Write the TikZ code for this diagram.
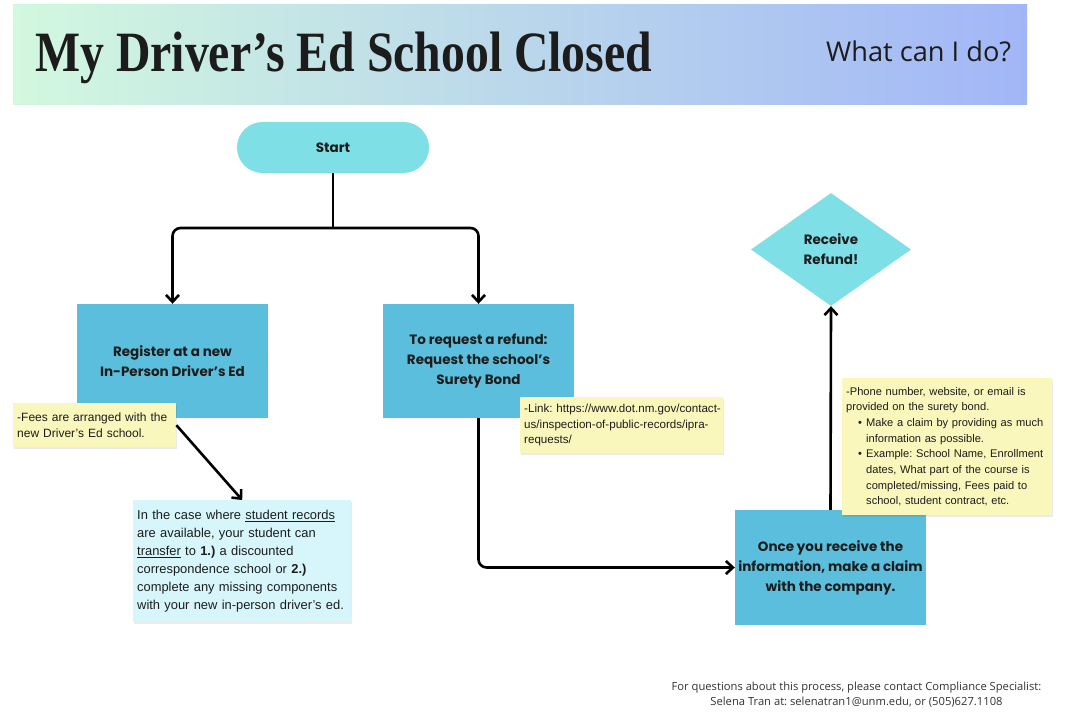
\documentclass[tikz,border=0pt]{standalone}
\usepackage{fontspec}
\usepackage{graphicx}
\setmainfont{Liberation Sans}
\newfontfamily\titlefont{Liberation Serif}
\newfontfamily\boxfont{Poppins}
\newfontfamily\headfont{Open Sans}
\usetikzlibrary{arrows.meta,shapes.geometric,shadows}
\frenchspacing

\definecolor{startcyan}{HTML}{7FDFE6}
\definecolor{boxblue}{HTML}{5BBEDC}
\definecolor{paleblue}{HTML}{D7F6FC}
\definecolor{noteyellow}{HTML}{FAF7BC}
\definecolor{bannerleft}{HTML}{D2F8DF}
\definecolor{bannerright}{HTML}{A2B6F7}
\definecolor{textdark}{HTML}{1C1C1C}

\begin{document}
\begin{tikzpicture}[x=1pt,y=-1pt,
  flow/.style={-{Straight Barb[length=7pt,width=13pt]}, line width=2.6pt, rounded corners=8pt},
  trunk/.style={line width=2.6pt},
  stepbox/.style={rectangle, fill=boxblue, minimum width=191pt, minimum height=114pt, align=center, text=textdark, font=\boxfont\bfseries\fontsize{13.5}{20}\selectfont},
  note/.style={rectangle, fill=noteyellow, anchor=north west, align=left, inner xsep=4pt, text=textdark, font=\fontsize{12}{15.8}\selectfont, drop shadow={shadow xshift=0.5pt, shadow yshift=-2pt, fill=black, opacity=0.08}}
]

\fill[white] (0,0) rectangle (1065,722);
\useasboundingbox (0,0) rectangle (1065,722);

% banner
\shade[left color=bannerleft, right color=bannerright] (13,5) rectangle (1027,105);
\node[anchor=base west, inner sep=0pt, text=textdark] (title) at (35,72) {\resizebox{617pt}{\height}{\titlefont\bfseries\fontsize{57}{60}\selectfont My Driver’s Ed School Closed}};
\node[anchor=base west, inner sep=0pt, text=textdark] (question) at (826,62) {\headfont\fontsize{27.2}{30}\selectfont What can I do?};

% flow
\node[rectangle, fill=startcyan, rounded corners=25.5pt, minimum width=192pt, minimum height=51pt, text=textdark, font=\boxfont\bfseries\fontsize{13.5}{16}\selectfont] (start) at (333,147.5) {Start};
\node[stepbox] (register) at (172.5,361) {Register at a new\\In-Person Driver’s Ed};
\node[stepbox] (request) at (478.5,361) {To request a refund:\\Request the school’s\\Surety Bond};
\node[stepbox, minimum height=115pt] (claim) at (830.5,567.5) {Once you receive the\\information, make a claim\\with the company.};
\node[diamond, fill=startcyan, minimum width=160pt, minimum height=113pt, inner sep=0pt, shape aspect=1.42, align=center, text=textdark, font=\boxfont\bfseries\fontsize{13.5}{20}\selectfont] (refund) at (831,249.5) {Receive\\Refund!};
\node[rectangle, fill=paleblue, anchor=north west, minimum height=122pt, text width=210pt, inner xsep=4pt, align=left, text=textdark, font=\fontsize{12.9}{18}\selectfont, drop shadow={shadow xshift=0.5pt, shadow yshift=-2pt, fill=black, opacity=0.08}] (case) at (133,500) {\mbox{In the case where \underline{student records}}\\\mbox{are available, your student can}\\\mbox{\underline{transfer} to \textbf{1.)} a discounted}\\\mbox{correspondence school or \textbf{2.)}}\\\mbox{complete any missing components}\\\mbox{with your new in-person driver’s ed.}};

\coordinate (fork) at (333,228);
\draw[trunk] (start.south) -- (fork);
\draw[flow] (fork) -| (register.north);
\draw[flow] (fork) -| (request.north);
\draw[flow] (request.south) |- (claim.west);
\draw[flow] (claim.north) -- (refund.south);

% notes
\node[note, minimum height=44pt, text width=155pt, font=\fontsize{12}{16}\selectfont] (fees) at (13,403) {\mbox{-Fees are arranged with the}\\\mbox{new Driver’s Ed school.}};
\node[note, minimum height=56pt, text width=195pt, font=\fontsize{11.6}{15.7}\selectfont] (link) at (520,397) {\mbox{-Link: https://www.dot.nm.gov/contact-}\\\mbox{us/inspection-of-public-records/ipra-}\\\mbox{requests/}};
\node[note, minimum height=137pt, text width=202pt, font=\fontsize{11.1}{15.7}\selectfont] (phone) at (842,378) {\mbox{-Phone number, website, or email is}\\\mbox{provided on the surety bond.}\\
\hspace*{12pt}\makebox[8pt][l]{•}\mbox{Make a claim by providing as much}\\
\hspace*{20pt}\mbox{information as possible.}\\
\hspace*{12pt}\makebox[8pt][l]{•}\mbox{Example: School Name, Enrollment}\\
\hspace*{20pt}\mbox{dates, What part of the course is}\\
\hspace*{20pt}\mbox{completed/missing, Fees paid to}\\
\hspace*{20pt}\mbox{school, student contract, etc.}};

\draw[flow] (fees.east) -- (case.north);

% footer
\node[align=center, text=black!80, font=\headfont\fontsize{11.2}{15}\selectfont] (contact) at (856.5,694.5) {For questions about this process, please contact Compliance Specialist:\\Selena Tran at: selenatran1@unm.edu, or (505)627.1108};

\end{tikzpicture}
\end{document}
